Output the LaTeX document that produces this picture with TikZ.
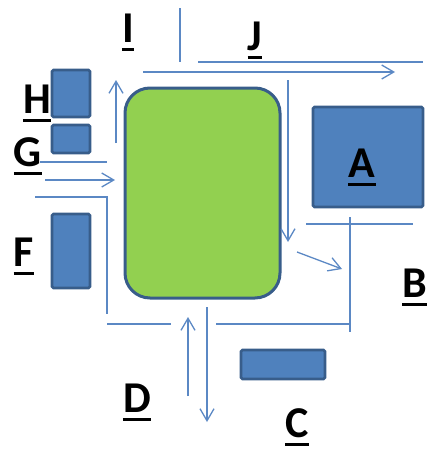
\documentclass[tikz,border=0pt]{standalone}
\usepackage{fontspec}
\setmainfont{Carlito}
\usetikzlibrary{arrows.meta}
\definecolor{boxfill}{HTML}{4F81BD}
\definecolor{boxline}{HTML}{385D8A}
\definecolor{greenfill}{HTML}{92D050}
\definecolor{flow}{HTML}{5B88C4}
\tikzset{
  box/.style={draw=boxline, fill=boxfill, line width=2.6pt, rounded corners=1.5pt},
  core/.style={draw=boxline, fill=greenfill, line width=3pt, rounded corners=25pt},
  flowline/.style={draw=flow, line width=1.3pt},
  flowarrow/.style={flowline, -{Straight Barb[length=12pt,width=14pt,line width=1.3pt]}},
  lbl/.style={inner sep=0pt, anchor=base, font=\fontsize{44}{44}\selectfont\bfseries},
  ul/.style={draw=black, line width=3pt}
}
\newcommand{\ulabel}[3]{%
  \node[lbl] (#1) at (#2) {#3};
  \draw[ul] ([yshift=-7.5pt]#1.base west) -- ([yshift=-7.5pt]#1.base east);
}
\begin{document}
\begin{tikzpicture}[x=1pt,y=-1pt]
\useasboundingbox (0,0) rectangle (427,450);
% core
\draw[core] (125,88) rectangle (280,298);
% boxes
\draw[box] (52,70) rectangle (90,117);
\draw[box] (52,125) rectangle (90,153);
\draw[box] (52,214) rectangle (90,288);
\draw[box] (313,107) rectangle (423,207);
\draw[box] (241,350) rectangle (325,379);
% coordinates
\coordinate (i1) at (180,8);  \coordinate (i2) at (180,62);
\coordinate (j1) at (198,62); \coordinate (j2) at (423,62);
\coordinate (j3) at (143,72); \coordinate (j4) at (395,72);
\coordinate (r1) at (288,80); \coordinate (r2) at (288,242);
\coordinate (u1) at (116,143); \coordinate (u2) at (116,80);
\coordinate (g1) at (40,162); \coordinate (g2) at (107,162);
\coordinate (g3) at (45,180); \coordinate (g4) at (115,180);
\coordinate (f1) at (35,197); \coordinate (f2) at (107,197); \coordinate (f3) at (107,314);
\coordinate (f4) at (107,324); \coordinate (f5) at (171,324);
\coordinate (d1) at (188,396); \coordinate (d2) at (188,317);
\coordinate (d3) at (207,307); \coordinate (d4) at (207,422);
\coordinate (b1) at (216,324); \coordinate (b2) at (350,324);
\coordinate (b3) at (350,217); \coordinate (b4) at (350,332);
\coordinate (a1) at (306,224); \coordinate (a2) at (413,224);
\coordinate (e1) at (297,252); \coordinate (e2) at (342,269);
% lines
\draw[flowline] (i1) -- (i2);
\draw[flowline] (j1) -- (j2);
\draw[flowarrow] (j3) -- (j4);
\draw[flowarrow] (r1) -- (r2);
\draw[flowarrow] (u1) -- (u2);
\draw[flowline] (g1) -- (g2);
\draw[flowarrow] (g3) -- (g4);
\draw[flowline] (f1) -- (f2) -- (f3);
\draw[flowline] (f4) -- (f5);
\draw[flowarrow] (d1) -- (d2);
\draw[flowarrow] (d3) -- (d4);
\draw[flowline] (b1) -- (b2);
\draw[flowline] (b3) -- (b4);
\draw[flowline] (a1) -- (a2);
\draw[flowarrow] (e1) -- (e2);
% labels
\ulabel{lI}{128,42}{I}
\ulabel{lJ}{255,50}{J}
\ulabel{lH}{37,113}{H}
\ulabel{lG}{28,166}{G}
\ulabel{lF}{24,266}{F}
\ulabel{lD}{137,412}{D}
\ulabel{lA}{362,177}{A}
\ulabel{lB}{415,297}{B}
\ulabel{lC}{297,437}{C}
\end{tikzpicture}
\end{document}
